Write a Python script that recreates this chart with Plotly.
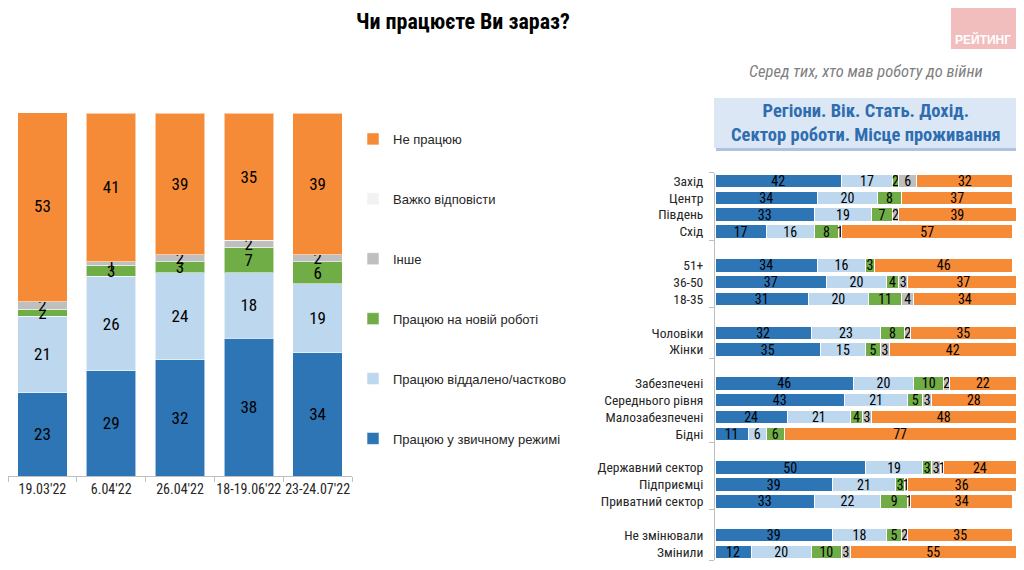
import plotly.graph_objects as go

# ---------------- data ----------------
dates = ["19.03'22", "6.04'22", "26.04'22", "18-19.06'22", "23-24.07'22"]
series_names = ["Працюю у звичному режимі", "Працюю віддалено/частково", "Працюю на новій роботі",
                "Інше", "Важко відповісти", "Не працюю"]
l_usual = [23, 29, 32, 38, 34]
l_remote = [21, 26, 24, 18, 19]
l_new = [2, 3, 3, 7, 6]
l_other = [2, 1, 2, 2, 2]
l_hard = [0, 0, 0, 0, 0]
l_notwork = [53, 41, 39, 35, 39]

groups = [
    ["Захід", "Центр", "Південь", "Схід"],
    ["51+", "36-50", "18-35"],
    ["Чоловіки", "Жінки"],
    ["Забезпечені", "Середнього рівня", "Малозабезпечені", "Бідні"],
    ["Державний сектор", "Підприємці", "Приватний сектор"],
    ["Не змінювали", "Змінили"],
]
r_usual = [42, 34, 33, 17, 34, 37, 31, 32, 35, 46, 43, 24, 11, 50, 39, 33, 39, 12]
r_remote = [17, 20, 19, 16, 16, 20, 20, 23, 15, 20, 21, 21, 6, 19, 21, 22, 18, 20]
r_new = [2, 8, 7, 8, 3, 4, 11, 8, 5, 10, 5, 4, 6, 3, 3, 9, 5, 10]
r_other = [6, 0, 2, 1, 0, 3, 4, 2, 3, 2, 3, 3, 0, 3, 1, 1, 2, 3]
r_hard = [0, 0, 0, 0, 0, 0, 0, 0, 0, 0, 0, 0, 0, 1, 0, 0, 0, 0]
r_notwork = [32, 37, 39, 57, 46, 37, 34, 35, 42, 22, 28, 48, 77, 24, 36, 34, 35, 55]

colors = ["#2E75B6", "#BDD7EE", "#70AD47", "#BFBFBF", "#F2F2F2", "#F68B37"]

COND = "Roboto Condensed, Liberation Sans, Arial"
REG = "Liberation Sans, Arial"

left_series = [l_usual, l_remote, l_new, l_other, l_hard, l_notwork]
right_series = [r_usual, r_remote, r_new, r_other, r_hard, r_notwork]

# row positions for right chart (with gap rows between groups)
r_labels, r_pos = [], []
group_edges = [-0.5]
p = 0
for g in groups:
    for lab in g:
        r_labels.append(lab)
        r_pos.append(p)
        p += 1
    group_edges.append(p - 0.5)
    p += 1
last_pos = r_pos[-1]


def txt(vals):
    return [str(v) if v else "" for v in vals]


fig = go.Figure()

n = len(series_names)
for i, (name, vals, col) in enumerate(zip(series_names, left_series, colors)):
    fig.add_trace(go.Bar(
        x=dates, y=vals, name=name, legendgroup=name, legendrank=n - i,
        marker=dict(color=col, line=dict(color="rgba(255,255,255,0.55)", width=1)),
        width=0.72, text=txt(vals), textposition="inside", insidetextanchor="middle",
        textangle=0, constraintext="none",
        textfont=dict(family=COND, size=17, color="#000000"),
        hoverinfo="skip", xaxis="x", yaxis="y",
    ))

for name, vals, col in zip(series_names, right_series, colors):
    fig.add_trace(go.Bar(
        x=vals, y=r_pos, orientation="h", name=name, legendgroup=name, showlegend=False,
        marker=dict(color=col, line=dict(color="#FFFFFF", width=1)),
        width=0.8, text=txt(vals), textposition="inside", insidetextanchor="middle",
        textangle=0, constraintext="none",
        textfont=dict(family=COND, size=14, color="#000000"),
        hoverinfo="skip", xaxis="x2", yaxis="y2",
    ))

W, H = 1024, 570
OFF = 8  # page offset of the figure inside the browser window


def px_x(v):
    return (v - OFF) / W


def px_y(v):
    return 1 - (v - OFF) / H


row_h = (552 - 181) / (last_pos)
top_r = 181 - row_h / 2
bot_r = 552 + row_h / 2

fig.update_layout(
    width=W, height=H, margin=dict(l=0, r=0, t=0, b=0, autoexpand=False),
    paper_bgcolor="white", plot_bgcolor="white",
    barmode="stack",
    showlegend=True,
    legend=dict(x=px_x(353), y=px_y(124), xanchor="left", yanchor="top",
                traceorder="grouped", tracegroupgap=40,
                font=dict(family=REG, size=13, color="#262626"),
                bgcolor="rgba(0,0,0,0)", itemwidth=30),
    xaxis=dict(domain=[max(px_x(7), 0), px_x(352)], type="category", showline=True, automargin=False,
               linecolor="#BFBFBF", ticks="outside", tickson="boundaries", ticklen=5,
               tickcolor="#BFBFBF", tickangle=0,
               tickfont=dict(family=COND, size=14, color="#262626"),
               showgrid=False, zeroline=False, fixedrange=True),
    yaxis=dict(domain=[px_y(476), px_y(113)], range=[0, 100], visible=False, automargin=False,
               showgrid=False, zeroline=False, fixedrange=True),
    xaxis2=dict(domain=[px_x(715), px_x(1016)], range=[0, 100], visible=False, automargin=False,
                anchor="y2", showgrid=False, zeroline=False, fixedrange=True),
    yaxis2=dict(domain=[px_y(bot_r), px_y(top_r)], range=[last_pos + 0.5, -0.5], automargin=False,
                anchor="x2", tickmode="array", tickvals=r_pos, ticktext=r_labels, ticks="",
                ticklabelstandoff=8,
                minor=dict(tickmode="array", tickvals=group_edges, ticks="outside", ticklen=5,
                           tickcolor="#BFBFBF", showgrid=False),
                showline=True, linecolor="#BFBFBF", showgrid=False, zeroline=False,
                tickfont=dict(family=COND, size=13.5, color="#262626"), fixedrange=True),
)

shapes = [
    # logo block
    dict(type="rect", xref="paper", yref="paper", x0=px_x(951), x1=px_x(1016), y0=px_y(49), y1=px_y(0),
         fillcolor="#F2BDBD", line=dict(width=0), layer="below"),
    # header box shadow
    dict(type="rect", xref="paper", yref="paper", x0=px_x(716), x1=px_x(1016), y0=px_y(151), y1=px_y(146),
         fillcolor="#AFC3E0", line=dict(width=0), layer="below"),
    # header box
    dict(type="rect", xref="paper", yref="paper", x0=px_x(714), x1=px_x(1016), y0=px_y(148), y1=px_y(98),
         fillcolor="#DCE7F6", line=dict(width=0), layer="below"),
]

annotations = [
    dict(text="<b>Чи працюєте Ви зараз?</b>", x=px_x(463), y=px_y(8), xref="paper", yref="paper",
         xanchor="center", yanchor="top", borderpad=0,
         showarrow=False, font=dict(family=COND, size=22, color="#000000")),
    dict(text="<b>РЕЙТИНГ</b>", x=px_x(983), y=px_y(40), xref="paper", yref="paper",
         xanchor="center", yanchor="middle",
         showarrow=False, font=dict(family=REG, size=12, color="#FFFFFF")),
    dict(text="<i>Серед тих, хто мав роботу до війни</i>", x=px_x(866), y=px_y(71),
         xref="paper", yref="paper", showarrow=False, xanchor="center", yanchor="middle",
         font=dict(family=COND, size=16.5, color="#7F7F7F")),
    dict(text="<b>Регіони. Вік. Стать. Дохід.<br>Сектор роботи. Місце проживання</b>",
         x=px_x(866), y=px_y(123), xref="paper", yref="paper", showarrow=False,
         xanchor="center", yanchor="middle",
         font=dict(family=COND, size=18.5, color="#2E6DB0"), align="center"),
]
fig.update_layout(shapes=shapes, annotations=annotations)

fig.write_html("out.html")
